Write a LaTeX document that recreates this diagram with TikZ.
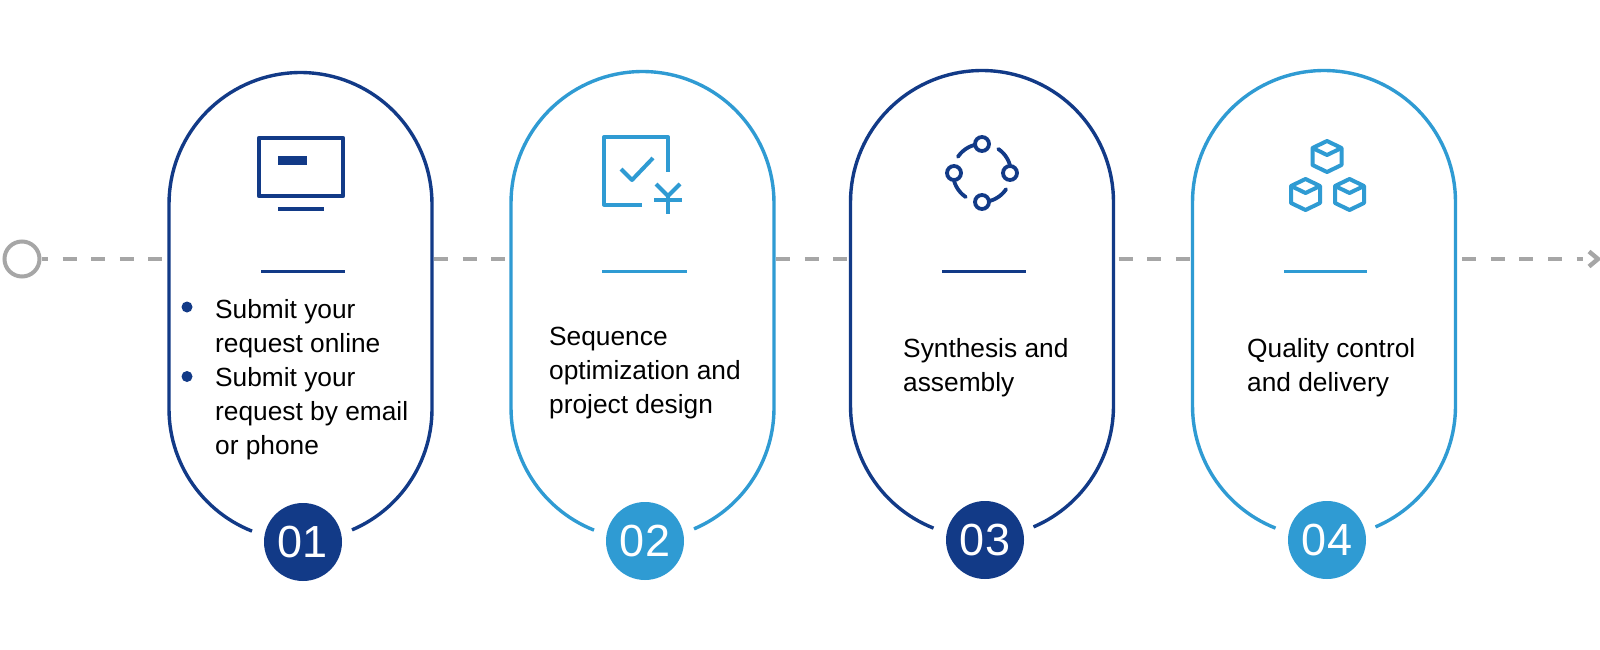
\documentclass[tikz,border=0pt]{standalone}
\usepackage{fontspec}
\setmainfont{Liberation Sans}
\definecolor{navy}{HTML}{123A87}
\definecolor{sky}{HTML}{2F9BD3}
\definecolor{flowgray}{HTML}{A6A6A6}
\tikzset{
  pillline/.style={line width=3.4pt},
  iconline/.style={line width=4pt,line join=round},
  rule/.style={line width=3pt},
  bodytext/.style={anchor=north west,inner sep=0pt,align=left,text=black,font=\fontsize{26.3}{33.9}\selectfont},
  badge/.style={circle,inner sep=0pt,minimum size=78pt,text=white,font=\fontsize{45}{45}\selectfont},
  bulletdot/.style={circle,inner sep=0pt,minimum size=11pt,fill=navy},
  cardbox/.style={inner sep=0pt,minimum width=263pt,minimum height=300pt},
  flow/.style={line width=4pt,flowgray,dash pattern=on 14pt off 14.6pt},
}
\newcommand{\pill}[5]{% name, cx, top y, gap end y, colour
  \pgfmathsetmacro{\cy}{#3+131.5}
  \pgfmathsetmacro{\by}{#4-121.6}
  \draw[pillline,#5]
    plot[domain=111.64:180,samples=30] ({#2+131.5*cos(\x)},{\by+131.5*sin(\x)})
    -- plot[domain=180:360,samples=70] ({#2+131.5*cos(\x)},{\cy+131.5*sin(\x)})
    -- plot[domain=0:66.94,samples=30] ({#2+131.5*cos(\x)},{\by+131.5*sin(\x)});
  \node[cardbox] (#1) at (#2,259) {};
}
\newcommand{\cube}[2]{%
  \draw[iconline,sky,shift={(#1,#2)}] (0,0)--(14.5,7)--(14.5,24)--(0,31)--(-14.5,24)--(-14.5,7)--cycle;
  \draw[iconline,sky,shift={(#1,#2)}] (-14.5,7)--(0,14)--(14.5,7);
}
\newcommand{\ringarc}[2]{%
  \draw[iconline,navy,line cap=round,line width=3.8pt] plot[domain=#1:#2,samples=16] ({982+29*cos(\x)},{173+29*sin(\x)});
}
\begin{document}
\begin{tikzpicture}[x=1pt,y=-1pt]
\useasboundingbox (0,0) rectangle (1600,650);
\fill[white] (0,0) rectangle (1600,650);

% cards
\pill{c1}{300.5}{72.5}{530.5}{navy}
\pill{c2}{642.5}{71.5}{529.5}{sky}
\pill{c3}{982}{70.5}{527.5}{navy}
\pill{c4}{1324}{70.5}{527.5}{sky}

% flow line
\node[circle,draw=flowgray,line width=4pt,minimum size=35pt,inner sep=0pt] (start) at (22,259) {};
\coordinate (finish) at (1598,259);
\draw[flow,dash phase=7.5pt] (start.east) -- (c1.west |- start);
\draw[flow,shorten <=2pt,shorten >=5.5pt] (c1.east |- start) -- (c2.west |- start);
\draw[flow,shorten <=2pt,shorten >=2.5pt] (c2.east |- start) -- (c3.west |- start);
\draw[flow,shorten <=5pt,shorten >=2pt] (c3.east |- start) -- (c4.west |- start);
\draw[flow,shorten <=6.5pt,shorten >=15pt] (c4.east |- start) -- (finish);
\draw[line width=4.4pt,flowgray] (1589,251.5) -- (finish) -- (1589,266.5);

% monitor
\draw[navy,line width=4.2pt,line join=round] (259,138) rectangle (343,196);
\fill[navy] (278,156) rectangle (307,165);
\fill[navy] (278,207) rectangle (324,211);

% receipt
\draw[iconline,sky] (642,204.5) -- (604,204.5) -- (604,137) -- (668,137) -- (668,172);
\draw[iconline,sky] (621,169) -- (632,180) -- (653,158);
\draw[iconline,sky] (656,184) -- (668,196) -- (680,184);
\draw[iconline,sky] (654,200) -- (682,200);
\draw[iconline,sky] (668,196) -- (668,214);

% ring
\foreach \px/\py in {982/144,954/173,1010/173,982/202}
  \draw[navy,line width=3.8pt] (\px,\py) circle (7);
\ringarc{-146}{-106}
\ringarc{-56}{-16}
\ringarc{34}{74}
\ringarc{124}{164}

% cubes
\cube{1327}{141}
\cube{1305.5}{179}
\cube{1349.5}{179}

% rules
\draw[rule,navy] (261,271.5) -- (345,271.5);
\draw[rule,sky] (602,271.5) -- (687,271.5);
\draw[rule,navy] (942,271.5) -- (1026,271.5);
\draw[rule,sky] (1284,271.5) -- (1367,271.5);

% text
\node[bulletdot] (b1) at (187,307) {};
\node[bulletdot] (b2) at (187,376.5) {};
\node[bodytext] (t1a) at (215,299.5) {Submit your\\request online};
\node[bodytext] (t1b) at (215,367.5) {Submit your\\request by email\\or phone};
\node[bodytext] (t2) at (549,327) {Sequence\\optimization and\\project design};
\node[bodytext] (t3) at (903,338.5) {Synthesis and\\assembly};
\node[bodytext] (t4) at (1247,338.5) {Quality control\\and delivery};

% badges
\node[badge,fill=navy] (n1) at (303,542) {01};
\node[badge,fill=sky] (n2) at (645,541) {02};
\node[badge,fill=navy] (n3) at (985,540) {03};
\node[badge,fill=sky] (n4) at (1327,540) {04};
\end{tikzpicture}
\end{document}
